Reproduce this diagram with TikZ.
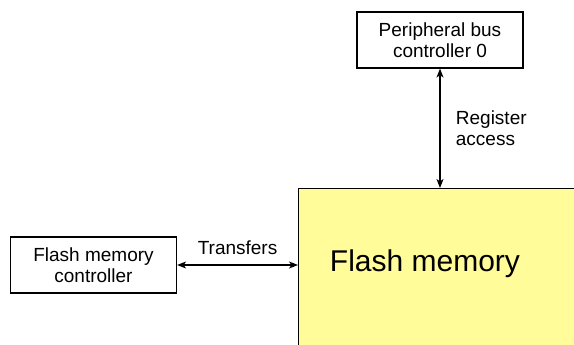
\documentclass[tikz,border=0pt]{standalone}
\usepackage{fontspec}
\setmainfont{Liberation Sans}
\usetikzlibrary{arrows.meta}
\definecolor{flashyellow}{RGB}{255,252,153}
\begin{document}
\begin{tikzpicture}[x=1pt, y=-1pt]
\tikzset{boite/.style={draw, line width=1.2pt, minimum width=166pt, minimum height=56pt, align=center, font=\fontsize{19}{21}\selectfont},
lien/.style={line width=1.2pt, {Stealth[length=9pt,width=7pt,inset=2.5pt]}-{Stealth[length=9pt,width=7pt,inset=2.5pt]}},
etiq/.style={font=\fontsize{19}{21}\selectfont, align=left}}
\useasboundingbox (0,0) rectangle (574,345);
\clip (0,0) rectangle (574,345);
\node[draw, line width=1.2pt, fill=flashyellow, anchor=north west, minimum width=320pt, minimum height=200pt] (FM) at (298,188) {};
\node[font=\fontsize{30}{34}\selectfont] (FMT) at (425,264) {Flash memory};
\node[boite] (PBC) at (440,40) {Peripheral bus\\controller 0};
\node[boite] (FMC) at (93.5,265) {Flash memory\\controller};
\draw[lien] (PBC.south) -- (PBC.south |- FM.north) node[midway, right, xshift=12pt, etiq] {Register\\access};
\draw[lien] (FMC.east) -- (FMC.east -| FM.west) node[midway, above, yshift=6pt, etiq] {Transfers};
\end{tikzpicture}
\end{document}
